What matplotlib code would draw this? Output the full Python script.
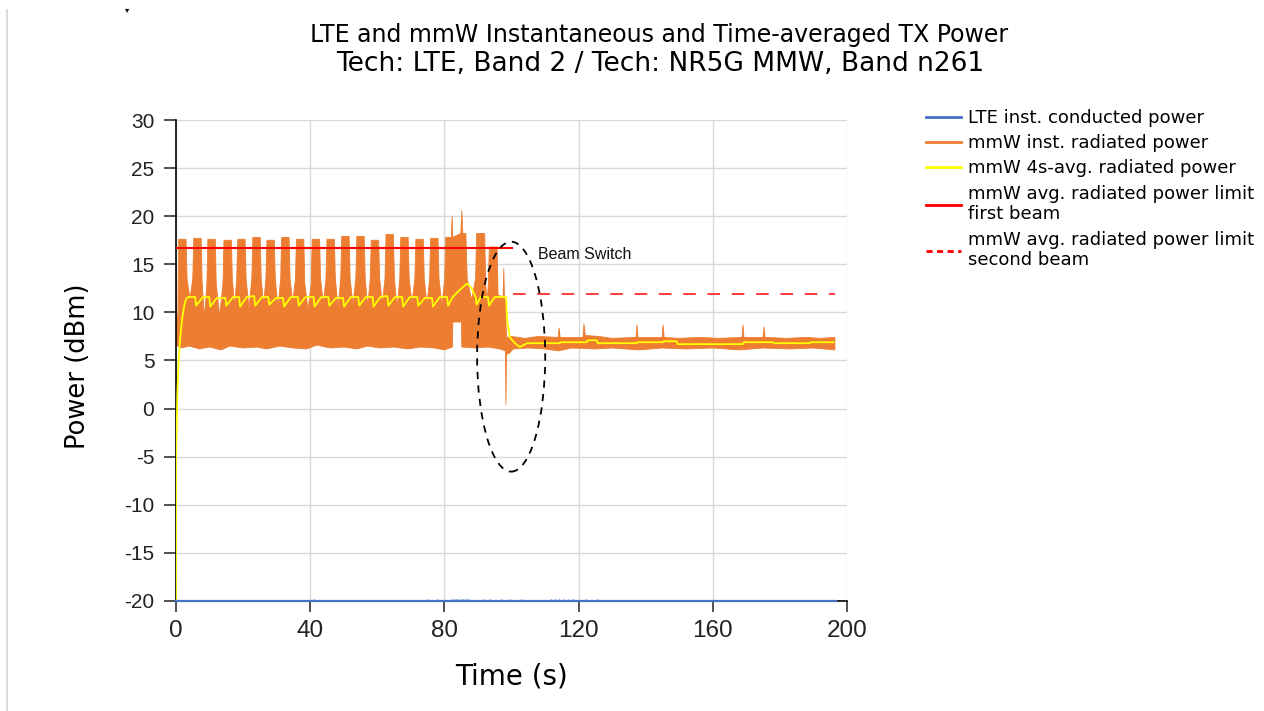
import numpy as np
import matplotlib
matplotlib.use('Agg')
import matplotlib.pyplot as plt
from matplotlib.patches import Ellipse
from matplotlib.lines import Line2D
from matplotlib import font_manager

plt.rcParams['axes.unicode_minus'] = False

# ---- data (time in s, power in dBm) ----
# LTE conducted power sits on the floor, a few tiny blips
lte_t = [0.0, 196.7]
lte_v = [-20.0, -20.0]
lte_blips = [41.2, 75.1, 77.8, 82.3, 83.0, 83.6, 84.2, 84.8, 85.4, 86.0, 86.6, 87.2,
             91.8, 93.6, 96.9, 99.6, 102.8, 111.8, 113.0, 114.3, 115.5, 116.8,
             118.3, 122.2, 125.5]

# mmW instantaneous power: upper and lower envelope of the dense trace
mmw_upper = [(0.0, 9.6), (0.15, 15.4), (0.35, 9.4), (0.75, 9.8), (0.8, 17.6), (3.0, 17.6),
             (3.3, 13.5), (4.15, 11.4), (5.0, 13.5), (5.3, 17.7), (7.5, 17.7), (7.8, 13.0),
             (8.5, 9.4), (9.2, 13.0), (9.5, 17.6), (11.7, 17.6), (12.0, 13.0), (13.0, 9.6),
             (14.0, 13.0), (14.3, 17.5), (16.5, 17.5), (16.8, 13.5), (17.45, 10.6), (18.1, 13.5),
             (18.4, 17.6), (20.6, 17.6), (20.9, 13.5), (21.75, 10.4), (22.6, 13.5), (22.9, 17.8),
             (25.1, 17.8), (25.4, 13.5), (26.1, 10.8), (26.8, 13.5), (27.1, 17.5), (29.3, 17.5),
             (29.6, 13.5), (30.4, 10.5), (31.2, 13.5), (31.5, 17.8), (33.7, 17.8), (34.0, 13.5),
             (34.8, 11.0), (35.6, 13.5), (35.9, 17.6), (38.1, 17.6), (38.4, 13.0), (39.35, 10.2),
             (40.3, 13.0), (40.6, 17.6), (42.8, 17.6), (43.1, 13.5), (43.9, 10.9), (44.7, 13.5),
             (45.0, 17.6), (47.2, 17.6), (47.5, 13.5), (48.3, 10.5), (49.1, 13.5), (49.4, 17.9),
             (51.6, 17.9), (51.9, 13.5), (52.75, 10.8), (53.6, 13.5), (53.9, 17.9), (56.1, 17.9),
             (56.4, 13.5), (57.15, 10.6), (57.9, 13.5), (58.2, 17.5), (60.4, 17.5), (60.7, 13.5),
             (61.5, 10.9), (62.3, 13.5), (62.6, 18.1), (64.8, 18.1), (65.1, 13.5), (65.9, 10.4),
             (66.7, 13.5), (67.0, 17.8), (69.2, 17.8), (69.5, 13.5), (70.35, 11.0), (71.2, 13.5),
             (71.5, 17.6), (73.7, 17.6), (74.0, 13.5), (74.8, 10.8), (75.6, 13.5), (75.9, 17.7),
             (78.1, 17.7), (78.4, 13.5), (79.25, 10.7), (80.1, 13.5), (80.4, 17.8), (82.1, 17.8),
             (82.3, 20.0), (82.5, 17.8), (84.9, 18.2), (85.2, 20.6), (85.5, 18.2), (86.4, 18.2),
             (86.8, 13.5), (88.1, 11.3), (89.3, 13.5), (89.6, 18.2), (92.0, 18.2), (92.3, 13.0),
             (92.7, 10.8), (93.1, 13.0), (93.4, 16.8), (95.7, 16.8), (96.0, 11.8), (97.5, 11.6),
             (97.7, 14.6), (97.9, 11.6), (98.2, 11.0), (98.5, 7.4),
             (100.0, 7.5), (104.0, 7.3), (108.0, 7.5), (113.9, 7.4), (114.2, 8.4), (114.5, 7.4),
             (121.3, 7.4), (121.6, 8.8), (122.0, 7.6), (126.0, 7.5), (130.0, 7.3), (137.1, 7.4),
             (137.4, 8.7), (137.7, 7.4), (144.9, 7.4), (145.2, 8.7), (145.5, 7.4), (150.0, 7.3),
             (156.0, 7.4), (162.0, 7.3), (168.7, 7.4), (169.0, 8.7), (169.3, 7.4), (175.0, 7.4),
             (175.3, 8.5), (175.6, 7.4), (182.0, 7.3), (188.0, 7.4), (192.0, 7.3), (196.4, 7.4)]
mmw_lower = [(0.0, 6.6), (1.5, 6.3), (4.0, 6.5), (7.0, 6.2), (10.0, 6.4), (13.5, 6.1),
             (16.0, 6.5), (20.0, 6.3), (24.0, 6.4), (27.0, 6.2), (31.0, 6.5), (35.0, 6.3),
             (39.0, 6.2), (42.0, 6.6), (46.0, 6.3), (50.0, 6.4), (54.0, 6.2), (57.0, 6.5),
             (61.0, 6.3), (65.0, 6.4), (69.0, 6.2), (73.0, 6.4), (77.0, 6.3), (80.0, 6.1),
             (82.4, 6.4), (82.5, 9.0), (85.1, 9.0), (85.2, 6.4), (89.0, 6.3), (93.0, 6.4),
             (96.5, 6.2), (98.2, 6.0), (98.35, 0.4), (98.5, 5.6), (99.5, 5.8), (100.5, 6.2),
             (105.0, 6.3), (110.0, 6.2), (114.0, 6.0), (118.0, 6.3), (125.0, 6.2), (130.0, 6.3),
             (138.0, 6.1), (145.0, 6.3), (152.0, 6.2), (160.0, 6.3), (168.0, 6.1), (175.0, 6.3),
             (183.0, 6.2), (190.0, 6.3), (196.4, 6.1)]

# mmW 4 s average
avg_pts = [(0.0, -20.0), (0.05, -4.5), (0.4, 1.5), (0.8, 5.0), (1.3, 7.5), (1.8, 9.3),
           (2.4, 10.6), (3.0, 11.4), (3.6, 11.6),
           (5.7, 11.6), (6.0, 10.7), (8.0, 11.6), (9.9, 11.6), (10.2, 10.6), (12.2, 11.5),
           (14.7, 11.5), (15.0, 10.7), (17.0, 11.6), (18.8, 11.6), (19.1, 10.6), (21.1, 11.6),
           (23.3, 11.7), (23.6, 10.7), (25.6, 11.6), (27.5, 11.6), (27.8, 10.8), (29.8, 11.5),
           (31.9, 11.5), (32.2, 10.6), (34.2, 11.6), (36.3, 11.6), (36.6, 10.7), (38.6, 11.6),
           (41.0, 11.6), (41.3, 10.6), (43.3, 11.6), (45.4, 11.6), (45.7, 10.7), (47.7, 11.5),
           (49.8, 11.5), (50.1, 10.6), (52.1, 11.6), (54.3, 11.6), (54.6, 10.7), (56.6, 11.6),
           (58.6, 11.6), (58.9, 10.6), (60.9, 11.6), (63.0, 11.7), (63.3, 10.7), (65.3, 11.6),
           (67.4, 11.6), (67.7, 10.6), (69.7, 11.6), (71.9, 11.6), (72.2, 10.7), (74.2, 11.5),
           (76.3, 11.5), (76.6, 10.6), (78.6, 11.6), (80.8, 11.6), (81.1, 10.7), (82.5, 11.6),
           (84.5, 12.3), (86.7, 13.0), (88.0, 12.6), (89.3, 11.6), (89.6, 10.8), (90.8, 11.6),
           (93.0, 11.6), (93.3, 10.7), (95.0, 11.6), (98.4, 11.6), (98.7, 9.2), (99.5, 7.4),
           (101.0, 6.8), (102.5, 6.4), (104.6, 6.8), (114.4, 6.8), (114.6, 6.9), (122.4, 6.9),
           (122.7, 7.1), (125.4, 7.1), (125.7, 6.8), (137.3, 6.8), (137.6, 6.9), (145.1, 6.9),
           (145.4, 7.0), (149.2, 7.0), (149.5, 6.7), (168.9, 6.7), (169.2, 6.9), (177.9, 6.9),
           (178.2, 6.8), (188.9, 6.8), (189.2, 6.9), (196.0, 6.9)]

# power limits
limit1_t = [0.0, 100.2]
limit1_v = [16.7, 16.7]
limit2_t = [100.3, 196.4]
limit2_v = [11.9, 11.9]

labels = ['LTE inst. conducted power', 'mmW inst. radiated power',
          'mmW 4s-avg. radiated power', 'mmW avg. radiated power limit\nfirst beam',
          'mmW avg. radiated power limit\nsecond beam']

c_blue, c_orange, c_yellow, c_red, c_red2 = '#4472C4', '#ED7D31', '#FFFF00', '#FF0000', '#FF3B3B'

names = {f.name for f in font_manager.fontManager.ttflist}
if 'Liberation Sans Narrow' in names:
    xfont, xsize = 'Liberation Sans Narrow', 20
else:
    xfont, xsize = 'Liberation Sans', 17.5

fig = plt.figure(figsize=(12.64, 7.11), dpi=100)
ax = fig.add_axes([176 / 1264, 1 - 601 / 711, 671 / 1264, 481 / 711])

# orange band: upper envelope forward, lower envelope back
up = np.array(mmw_upper)
lo = np.array(mmw_lower)
ax.fill(np.r_[up[:, 0], lo[::-1, 0]], np.r_[up[:, 1], lo[::-1, 1]],
        facecolor=c_orange, edgecolor=c_orange, lw=0.6, zorder=2)

avg = np.array(avg_pts)
ax.plot(avg[:, 0], avg[:, 1], color=c_yellow, lw=1.3, zorder=3)
ax.plot(limit1_t, limit1_v, color=c_red, lw=1.5, zorder=3)
ax.plot(limit2_t, limit2_v, color=c_red2, lw=1.4, dashes=(6.5, 6), zorder=3)
ax.plot(lte_t, lte_v, color=c_blue, lw=1.6, zorder=4, clip_on=False)
ax.vlines(lte_blips, -20, -19.75, color=c_blue, lw=1.0, zorder=4)

# beam switch marker
ax.add_patch(Ellipse((99.9, 5.4), 20.3, 23.9, fill=False, ec='black', lw=1.3,
                     ls=(0, (4, 3.5)), zorder=5))
ax.text(107.9, 16.0, 'Beam Switch', fontsize=11.5, family='Liberation Sans',
        ha='left', va='center', color='#111111')

ax.set_xlim(0, 200)
ax.set_ylim(-20, 30)
ax.set_xticks(np.arange(0, 201, 40))
ax.set_yticks(np.arange(-20, 31, 5))
ax.grid(True, color='#d9d9d9', lw=1.0)
ax.set_axisbelow(True)
for s in ['top', 'right']:
    ax.spines[s].set_visible(False)
for s in ['left', 'bottom']:
    ax.spines[s].set_linewidth(1.2)
ax.tick_params(axis='y', direction='out', length=8.6, width=1.1, pad=7, colors='#222222')
ax.tick_params(axis='x', direction='out', length=8, width=1.1, pad=6, colors='#222222')
for t in ax.get_yticklabels():
    t.set_fontfamily('Liberation Sans')
    t.set_fontsize(15)
for t in ax.get_xticklabels():
    t.set_fontfamily(xfont)
    t.set_fontsize(xsize)

ax.set_xlabel('Time (s)', fontsize=20, va='center')
ax.set_ylabel('Power (dBm)', fontsize=18.5, va='center')
ax.xaxis.set_label_coords(0.5, (601 - 677) / 481)
ax.yaxis.set_label_coords((78 - 176) / 671, (601 - 366) / 481)

fig.text(659 / 1264, 1 - 35 / 711, 'LTE and mmW Instantaneous and Time-averaged TX Power',
         ha='center', va='center', fontsize=17)
fig.text(660 / 1264, 1 - 64 / 711, 'Tech: LTE, Band 2 / Tech: NR5G MMW, Band n261',
         ha='center', va='center', fontsize=19)

handles = [Line2D([], [], color=c_blue, lw=2),
           Line2D([], [], color=c_orange, lw=2),
           Line2D([], [], color=c_yellow, lw=2),
           Line2D([], [], color=c_red, lw=2),
           Line2D([], [], color=c_red, lw=2, dashes=(2.2, 1.6))]
leg = fig.legend(handles, labels, loc='upper left', bbox_to_anchor=(926 / 1264, 1 - 109 / 711),
                 frameon=False, fontsize=13, handlelength=1.95, handletextpad=0.4,
                 labelspacing=0.4, borderpad=0, borderaxespad=0)

# screenshot frame leftovers
fig.add_artist(Line2D([7 / 1264, 7 / 1264], [0, 1 - 10 / 711], color='#d4d4d4', lw=1.2))
fig.text(127 / 1264, 1 - 10 / 711, '\u25be', fontsize=6, ha='center', va='center')

fig.savefig('out.png', dpi=100)
